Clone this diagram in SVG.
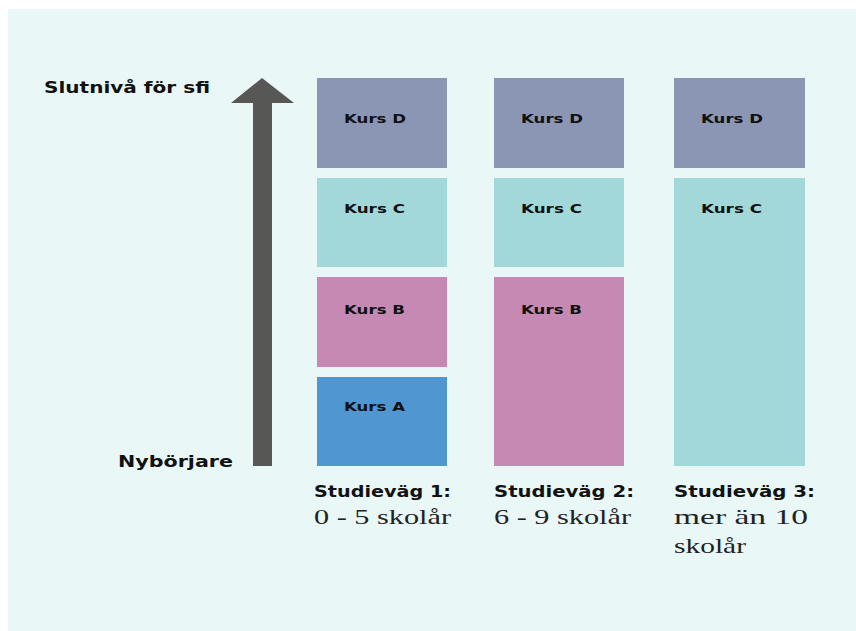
<svg xmlns="http://www.w3.org/2000/svg" width="856" height="631" viewBox="0 0 856 631">
<style>
.lbl{font-family:"DejaVu Sans","Liberation Sans",sans-serif;font-weight:bold;fill:#111}
.k{font-size:13px}
.ax{font-size:16px}
.sv{font-size:16px}
.yr{font-family:"Liberation Serif","DejaVu Serif",serif;font-size:21px;fill:#222}
.D{fill:#8b96b5}.C{fill:#a3d8da}.B{fill:#c689b3}.A{fill:#5096d1}
</style>
<rect width="856" height="631" fill="#ffffff"/>
<rect x="8" y="9" width="848" height="622" fill="#eaf7f7"/>
<g id="connectors">
<polygon points="253,466 272,466 272,103 294,103 262,78 231,103 253,103" fill="#575755"/>
</g>
<g id="axis-top"><text class="lbl ax" x="44" y="93" textLength="166" lengthAdjust="spacingAndGlyphs">Slutnivå för sfi</text></g>
<g id="axis-bottom"><text class="lbl ax" x="118" y="467" textLength="115" lengthAdjust="spacingAndGlyphs">Nybörjare</text></g>
<g id="p1-D"><rect class="D" x="317" y="78" width="130" height="90"/><text class="lbl k" x="344" y="123" textLength="62" lengthAdjust="spacingAndGlyphs">Kurs D</text></g>
<g id="p1-C"><rect class="C" x="317" y="178" width="130" height="89"/><text class="lbl k" x="344" y="213" textLength="61" lengthAdjust="spacingAndGlyphs">Kurs C</text></g>
<g id="p1-B"><rect class="B" x="317" y="277" width="130" height="90"/><text class="lbl k" x="344" y="314" textLength="61" lengthAdjust="spacingAndGlyphs">Kurs B</text></g>
<g id="p1-A"><rect class="A" x="317" y="377" width="130" height="89"/><text class="lbl k" x="344" y="411" textLength="61" lengthAdjust="spacingAndGlyphs">Kurs A</text></g>
<g id="p2-D"><rect class="D" x="494" y="78" width="130" height="90"/><text class="lbl k" x="521" y="123" textLength="62" lengthAdjust="spacingAndGlyphs">Kurs D</text></g>
<g id="p2-C"><rect class="C" x="494" y="178" width="130" height="89"/><text class="lbl k" x="521" y="213" textLength="61" lengthAdjust="spacingAndGlyphs">Kurs C</text></g>
<g id="p2-B"><rect class="B" x="494" y="277" width="130" height="189"/><text class="lbl k" x="521" y="314" textLength="61" lengthAdjust="spacingAndGlyphs">Kurs B</text></g>
<g id="p3-D"><rect class="D" x="674" y="78" width="131" height="90"/><text class="lbl k" x="701" y="123" textLength="62" lengthAdjust="spacingAndGlyphs">Kurs D</text></g>
<g id="p3-C"><rect class="C" x="674" y="178" width="131" height="288"/><text class="lbl k" x="701" y="213" textLength="61" lengthAdjust="spacingAndGlyphs">Kurs C</text></g>
<g id="path1"><text class="lbl sv" x="314" y="497" textLength="137" lengthAdjust="spacingAndGlyphs">Studieväg 1:</text><text class="yr" x="314" y="524" textLength="137" lengthAdjust="spacingAndGlyphs">0 - 5 skolår</text></g>
<g id="path2"><text class="lbl sv" x="494" y="497" textLength="140" lengthAdjust="spacingAndGlyphs">Studieväg 2:</text><text class="yr" x="494" y="524" textLength="137" lengthAdjust="spacingAndGlyphs">6 - 9 skolår</text></g>
<g id="path3"><text class="lbl sv" x="674" y="497" textLength="141" lengthAdjust="spacingAndGlyphs">Studieväg 3:</text><text class="yr" x="674" y="524" textLength="134" lengthAdjust="spacingAndGlyphs">mer än 10</text><text class="yr" x="674" y="553" textLength="72" lengthAdjust="spacingAndGlyphs">skolår</text></g>
</svg>
